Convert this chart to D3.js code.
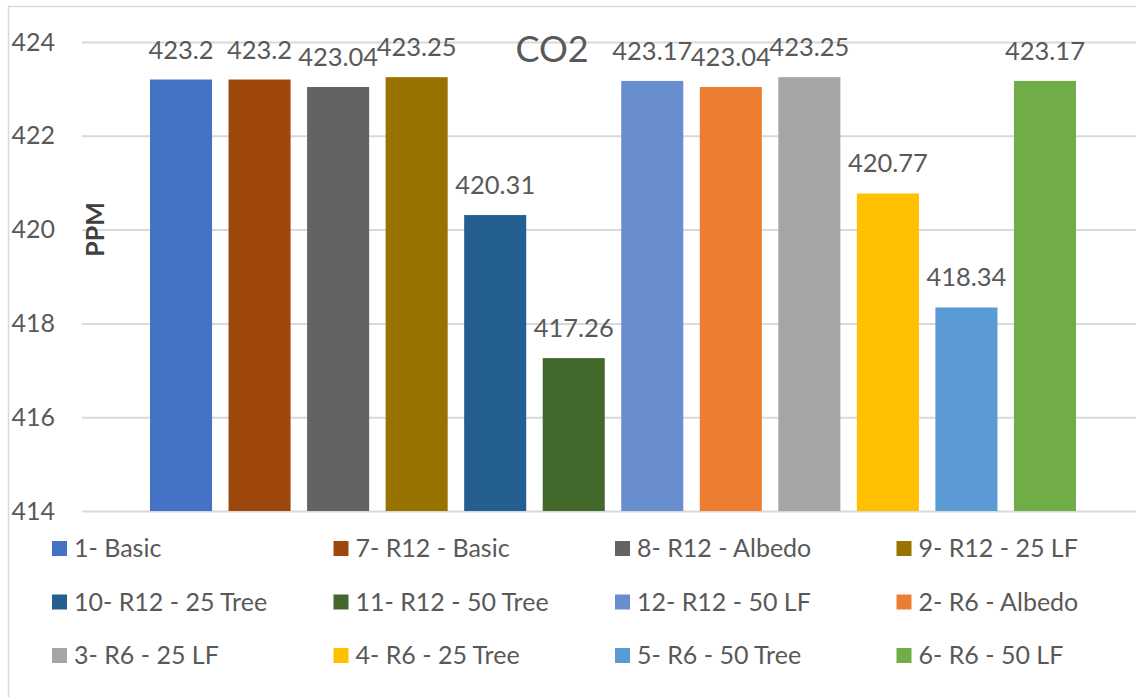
<!DOCTYPE html>
<html>
<head>
<meta charset="utf-8">
<script src="https://cdn.jsdelivr.net/npm/d3@7"></script>
<style>
  html, body { margin: 0; padding: 0; background: #fff; }
  svg { display: block; font-family: Lato, "Open Sans", sans-serif; }
</style>
</head>
<body>
<svg id="chart" width="1136" height="697"></svg>
<script>
// Scenario names, in plotting order
const scenarios = [
  "1- Basic", "7- R12 - Basic", "8- R12 - Albedo", "9- R12 - 25 LF",
  "10- R12 - 25 Tree", "11- R12 - 50 Tree", "12- R12 - 50 LF", "2- R6 - Albedo",
  "3- R6 - 25 LF", "4- R6 - 25 Tree", "5- R6 - 50 Tree", "6- R6 - 50 LF"
];
// CO2 concentration per scenario (ppm)
const co2 = [423.2, 423.2, 423.04, 423.25, 420.31, 417.26, 423.17, 423.04, 423.25, 420.77, 418.34, 423.17];
// Bar fill per scenario
const barColors = [
  "#4472C4", "#9E480E", "#636363", "#997300",
  "#255E91", "#43682B", "#698ED0", "#ED7D31",
  "#A5A5A5", "#FFC000", "#5B9BD5", "#70AD47"
];
const yTicks = [414, 416, 418, 420, 422, 424];

const svg = d3.select("#chart");
const textColor = "#595959";
const gridColor = "#D9D9D9";

// chart frame
svg.append("rect")
  .attr("x", 8.5).attr("y", 6.5)
  .attr("width", 1140).attr("height", 700)
  .attr("fill", "none").attr("stroke", gridColor).attr("stroke-width", 1.5);

const plot = { left: 82, right: 1144, top: 42, bottom: 511 };

const y = d3.scaleLinear().domain([414, 424]).range([plot.bottom, plot.top]);
const x = d3.scaleBand()
  .domain(d3.range(scenarios.length))
  .range([plot.left, plot.right])
  .paddingInner(0.21)
  .paddingOuter(0.866);

// horizontal gridlines + tick labels via axis
const yAxis = d3.axisLeft(y)
  .tickValues(yTicks)
  .tickSize(-(plot.right - plot.left))
  .tickPadding(27)
  .tickFormat(d3.format("d"));

const gAxis = svg.append("g")
  .attr("transform", `translate(${plot.left},0)`)
  .call(yAxis);
gAxis.select(".domain").remove();
gAxis.selectAll(".tick line")
  .attr("stroke", gridColor).attr("stroke-width", 2);
gAxis.selectAll(".tick text")
  .attr("fill", textColor)
  .style("font-size", "25px")
  .style("font-family", "Lato, sans-serif");

// bars
svg.append("g").selectAll("rect")
  .data(co2)
  .join("rect")
  .attr("x", (d, i) => x(i))
  .attr("width", x.bandwidth())
  .attr("y", d => y(d))
  .attr("height", d => y(414) - y(d))
  .attr("fill", (d, i) => barColors[i]);

// value labels
svg.append("g").selectAll("text")
  .data(co2)
  .join("text")
  .attr("x", (d, i) => x(i) + x.bandwidth() / 2)
  .attr("y", d => y(d) - 21)
  .attr("text-anchor", "middle")
  .attr("fill", textColor)
  .style("font-size", "25.5px")
  .text(d => d);

// title
svg.append("text")
  .attr("x", 552).attr("y", 62)
  .attr("text-anchor", "middle")
  .attr("fill", textColor)
  .style("font-size", "36px")
  .text("CO2");

// y-axis title
svg.append("text")
  .attr("transform", `translate(104,${(plot.top + plot.bottom) / 2 - 47}) rotate(-90)`)
  .attr("text-anchor", "middle")
  .attr("fill", "#404040")
  .style("font-size", "25px")
  .style("font-weight", "bold")
  .text("PPM");

// legend: 4 columns x 3 rows
const legendCols = 4, colStep = 281.5, rowStep = 53.5;
const legend = svg.append("g").attr("transform", "translate(52,541)");
const items = legend.selectAll("g")
  .data(scenarios)
  .join("g")
  .attr("transform", (d, i) => `translate(${(i % legendCols) * colStep},${Math.floor(i / legendCols) * rowStep})`);
items.append("rect")
  .attr("width", 15).attr("height", 15)
  .attr("fill", (d, i) => barColors[i]);
items.append("text")
  .attr("x", 22).attr("y", 16)
  .attr("fill", textColor)
  .style("font-size", "25px")
  .text(d => d);
</script>
</body>
</html>
